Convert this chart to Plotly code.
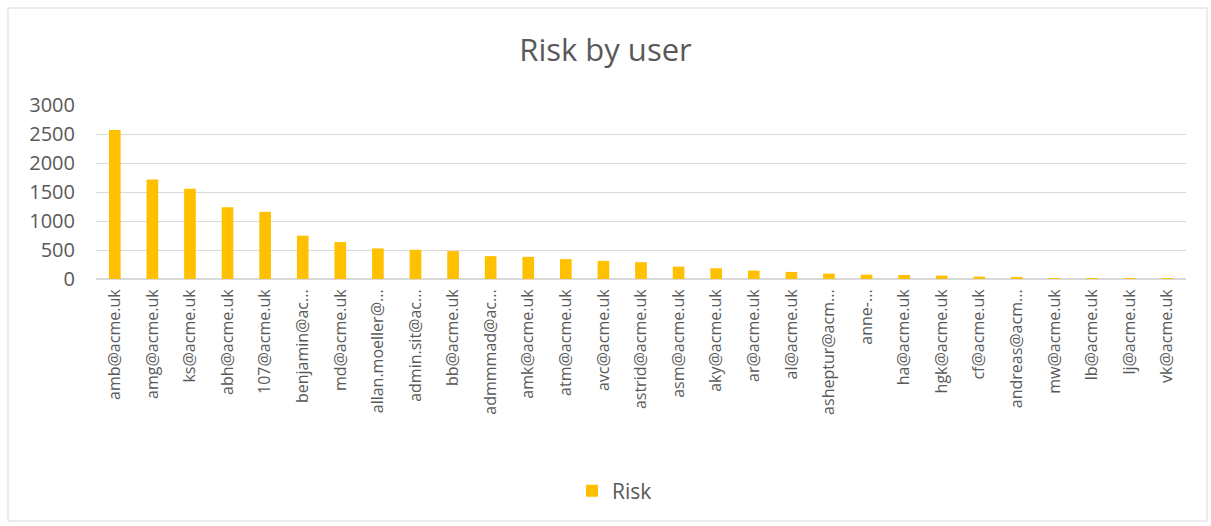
import plotly.graph_objects as go

users = ["amb@acme.uk", "amg@acme.uk", "ks@acme.uk", "abh@acme.uk", "107@acme.uk",
         "benjamin@ac...", "md@acme.uk", "allan.moeller@...", "admin.sit@ac...", "bb@acme.uk",
         "admmmad@ac...", "amk@acme.uk", "atm@acme.uk", "avc@acme.uk", "astrid@acme.uk",
         "asm@acme.uk", "aky@acme.uk", "ar@acme.uk", "al@acme.uk", "asheptur@acm...",
         "anne-...", "ha@acme.uk", "hgk@acme.uk", "cf@acme.uk", "andreas@acm...",
         "mw@acme.uk", "lb@acme.uk", "lj@acme.uk", "vk@acme.uk"]
risk = [2570, 1714, 1558, 1239, 1158,
        747, 637, 527, 504, 481,
        394, 382, 342, 313, 290,
        214, 185, 145, 122, 93,
        75, 69, 58, 41, 36,
        17, 8, 3, 2]
y_ticks = [0, 500, 1000, 1500, 2000, 2500, 3000]

TEXT = "#595959"
FONT = "Open Sans"

fig = go.Figure()
fig.add_trace(go.Bar(x=users, y=risk, name="Risk", marker=dict(color="#FFC000", line=dict(width=0)),
                     showlegend=True))

# plot area in px
L, R, T, B = 96, 1186, 105, 279
W, H = R - L, B - T

def px_x(p):
    return (p - L) / W

def px_y(p):
    return (B - p) / H

fig.update_layout(
    width=1211, height=526,
    margin=dict(l=L, r=1211 - R, t=T, b=526 - B, autoexpand=False),
    paper_bgcolor="white", plot_bgcolor="white",
    font=dict(family=FONT, color=TEXT, size=16),
    title=dict(text="Risk by user", x=0.5, xanchor="center", xref="container",
               y=1 - 50 / 526, yref="container", yanchor="middle",
               font=dict(size=31, color=TEXT, family=FONT)),
    bargap=0.69,
    showlegend=True,
    legend=dict(orientation="h", x=px_x(572), xanchor="left", y=px_y(491), yanchor="middle",
                font=dict(size=21, color=TEXT), itemsizing="constant"),
    xaxis=dict(type="category", tickangle=-90, showgrid=False, showline=True,
               linecolor="#D9D9D9", linewidth=1, ticks="", tickfont=dict(size=16, color=TEXT),
               ticklabelstandoff=3, automargin=False),
    yaxis=dict(range=[0, 3000], tickvals=y_ticks, showgrid=True, gridcolor="#D9D9D9", gridwidth=1,
               zeroline=True, zerolinecolor="#D9D9D9", showline=False, ticks="",
               ticklabelstandoff=20, tickfont=dict(size=20, color=TEXT), automargin=False),
    shapes=[dict(type="rect", xref="paper", yref="paper",
                 x0=px_x(8), x1=px_x(1207), y0=px_y(521), y1=px_y(8),
                 line=dict(color="#D9D9D9", width=1), fillcolor="rgba(0,0,0,0)", layer="below")],
)

fig.write_html("out.html")
